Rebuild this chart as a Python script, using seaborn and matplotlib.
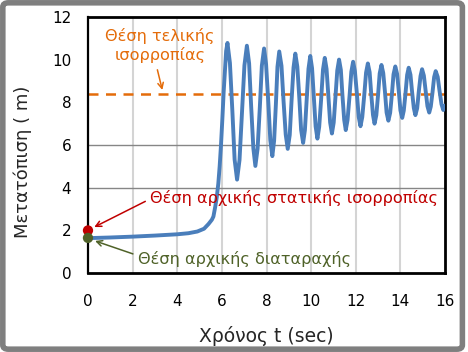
import matplotlib
matplotlib.use("Agg")
import matplotlib.pyplot as plt
import pandas as pd
import seaborn as sns
from matplotlib.patches import FancyBboxPatch

# displacement curve (t in sec, y in m)
time_s = [
    0.0, 1.0, 2.0, 3.0, 4.0, 4.5, 4.9, 5.2, 5.4, 5.55, 5.62, 5.7, 5.77, 5.84,
    5.9, 5.96, 6.02, 6.08, 6.14, 6.19, 6.25,
    6.36, 6.47, 6.57, 6.68, 6.79, 6.90, 7.01, 7.12,
    7.22, 7.31, 7.41, 7.50, 7.60, 7.70, 7.79, 7.89,
    7.98, 8.08, 8.17, 8.26, 8.34, 8.42, 8.49, 8.57,
    8.67, 8.76, 8.86, 8.95, 9.04, 9.12, 9.21, 9.29,
    9.38, 9.47, 9.55, 9.64, 9.72, 9.80, 9.88, 9.96,
    10.04, 10.12, 10.20, 10.28, 10.36, 10.45, 10.53, 10.61,
    10.69, 10.77, 10.85, 10.93, 11.01, 11.09, 11.17, 11.25,
    11.33, 11.40, 11.48, 11.55, 11.63, 11.72, 11.80, 11.88,
    11.96, 12.05, 12.13, 12.21, 12.29, 12.38, 12.46, 12.54,
    12.62, 12.69, 12.77, 12.84, 12.92, 13.00, 13.07, 13.15,
    13.23, 13.31, 13.38, 13.46, 13.54, 13.62, 13.69, 13.77,
    13.85, 13.93, 14.00, 14.08, 14.15, 14.23, 14.30, 14.37,
    14.45, 14.52, 14.60, 14.67, 14.75, 14.82, 14.90, 14.97,
    15.05, 15.13, 15.21, 15.29, 15.36, 15.44, 15.51, 15.58,
    15.67, 15.75, 15.84, 15.92, 16.0,
]
displacement_m = [
    1.64, 1.67, 1.71, 1.76, 1.82, 1.87, 1.95, 2.08, 2.3, 2.5, 2.65, 3.1, 3.55, 4.2,
    5.0, 6.0, 7.2, 8.5, 9.55, 10.4, 10.78,
    9.84, 7.58, 5.32, 4.38, 5.30, 7.52, 9.73, 10.65,
    9.82, 7.84, 5.85, 5.02, 5.83, 7.77, 9.71, 10.52,
    9.78, 8.00, 6.22, 5.48, 6.20, 7.93, 9.66, 10.38,
    9.71, 8.10, 6.49, 5.82, 6.47, 8.05, 9.63, 10.28,
    9.67, 8.19, 6.71, 6.10, 6.70, 8.14, 9.57, 10.17,
    9.60, 8.24, 6.87, 6.30, 6.85, 8.19, 9.53, 10.08,
    9.56, 8.31, 7.06, 6.54, 7.05, 8.27, 9.49, 10.00,
    9.52, 8.35, 7.18, 6.70, 7.17, 8.30, 9.43, 9.90,
    9.46, 8.39, 7.32, 6.88, 7.31, 8.35, 9.39, 9.82,
    9.41, 8.41, 7.41, 7.00, 7.40, 8.38, 9.35, 9.75,
    9.37, 8.45, 7.52, 7.14, 7.51, 8.41, 9.31, 9.68,
    9.33, 8.48, 7.62, 7.27, 7.61, 8.45, 9.28, 9.62,
    9.29, 8.51, 7.73, 7.40, 7.72, 8.48, 9.23, 9.55,
    9.25, 8.54, 7.82, 7.52, 7.80, 8.49, 9.18, 9.46,
    9.19, 8.55, 7.91, 7.64, 7.85,
]

final_equilibrium = 8.4
static_equilibrium = 2.0
initial_disturbance = 1.65

x_ticks = [0, 2, 4, 6, 8, 10, 12, 14, 16]
y_ticks = [0, 2, 4, 6, 8, 10, 12]

label_final = "Θέση τελικής\nισορροπίας"
label_static = "Θέση αρχικής στατικής ισορροπίας"
label_disturb = "Θέση αρχικής διαταραχής"

BLUE = "#4a7ebb"
ORANGE = "#e46c0a"
RED = "#c00000"
GREEN = "#4f6228"

sns.set_style("white")
plt.rcParams["font.family"] = ["DejaVu Sans"]

df = pd.DataFrame({"t": time_s, "y": displacement_m})

fig = plt.figure(figsize=(4.68, 3.52), dpi=100)
ax = fig.add_axes([0.188, 0.224, 0.763, 0.728])

# rounded chart-area frame
fig.patches.append(FancyBboxPatch((0.006, 0.008), 0.982, 0.984,
                                  boxstyle="round,pad=0,rounding_size=0.012",
                                  transform=fig.transFigure, facecolor="white",
                                  edgecolor="#7f7f7f", linewidth=4, zorder=-10))

for xv in x_ticks[1:-1]:
    ax.axvline(xv, color="#d4d4d4", lw=1.5, zorder=0)
for yv in [4, 6]:
    ax.axhline(yv, color="#868686", lw=1.0, zorder=0)

ax.axhline(final_equilibrium, color=ORANGE, lw=1.8, ls=(0, (4, 3)), zorder=1)

sns.lineplot(data=df, x="t", y="y", color=BLUE, lw=2.8, ax=ax, zorder=3)

dots = pd.DataFrame({"t": [0, 0], "y": [static_equilibrium, initial_disturbance],
                     "kind": ["static", "disturb"]})
sns.scatterplot(data=dots, x="t", y="y", hue="kind", palette={"static": RED, "disturb": GREEN},
                s=55, edgecolor="none", legend=False, ax=ax, zorder=5, clip_on=False)

ax.set_xlim(0, 16)
ax.set_ylim(0, 12)
ax.set_xticks(x_ticks)
ax.set_yticks(y_ticks)
ax.tick_params(axis="both", direction="out", length=5, width=1.5, color="black",
               labelsize=11, labelcolor="black")
ax.tick_params(axis="x", pad=10)
ax.tick_params(axis="y", pad=7)
for side in ["left", "bottom", "top", "right"]:
    ax.spines[side].set_color("black")
    ax.spines[side].set_linewidth(2)
ax.spines["left"].set_linewidth(1.6)

ax.set_xlabel("Χρόνος t (sec)", fontsize=13.5, labelpad=12)
ax.set_ylabel("Μετατόπιση ( m)", fontsize=13)
ax.yaxis.set_label_coords(-0.157, 0.434)

# annotations
ax.text(3.23, 10.65, label_final, color=ORANGE, fontsize=11.6, ha="center", va="center",
        linespacing=1.2)
ax.annotate("", xy=(3.36, 8.45), xytext=(3.08, 9.65),
            arrowprops=dict(arrowstyle="->", color=ORANGE, lw=1.1))

ax.text(2.78, 3.52, label_static, color=RED, fontsize=11.6, ha="left", va="center")
ax.annotate("", xy=(0.17, 2.1), xytext=(2.68, 3.42),
            arrowprops=dict(arrowstyle="->", color=RED, lw=1.1))

ax.text(2.23, 0.68, label_disturb, color=GREEN, fontsize=11.6, ha="left", va="center")
ax.annotate("", xy=(0.2, 1.55), xytext=(2.13, 0.86),
            arrowprops=dict(arrowstyle="->", color=GREEN, lw=1.1))

fig.savefig("out.png", dpi=100)
